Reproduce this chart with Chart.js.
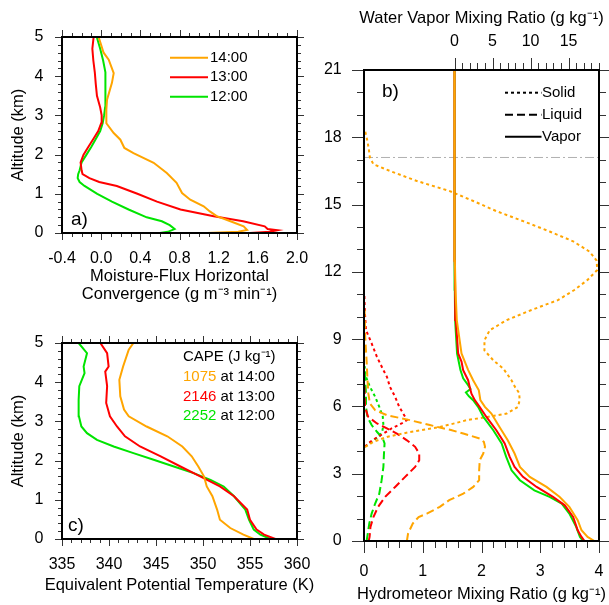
<!DOCTYPE html>
<html>
<head>
<meta charset="utf-8">
<script src="https://cdn.jsdelivr.net/npm/chart.js@4.4.1/dist/chart.umd.min.js"></script>
<style>
  body { margin: 0; background: #fff; }
  #wrap { position: relative; width: 609px; height: 605px; }
  canvas { position: absolute; left: 0; top: 0; }
</style>
</head>
<body>
<div id="wrap">
  <canvas id="chart-a" width="609" height="605"></canvas>
  <canvas id="chart-b" width="609" height="605"></canvas>
  <canvas id="chart-c" width="609" height="605"></canvas>
</div>
<script>
// ---- panel a: moisture-flux convergence (x) vs altitude (y, km)
var altA14  = [0, 0.03, 0.08, 0.17, 0.3, 0.43, 0.55, 0.68, 0.85, 1.02, 1.28, 1.53, 1.79, 2.04, 2.17, 2.38, 2.55, 2.8, 3.15, 3.4, 3.83, 4.08, 4.42, 4.6, 5.0];
var convA14 = [1.08, 1.40, 1.49, 1.455, 1.32, 1.18, 1.11, 1.047, 0.91, 0.826, 0.77, 0.67, 0.536, 0.33, 0.237, 0.196, 0.128, 0.053, 0.053, 0.06, 0.11, 0.128, 0.077, 0.025, -0.026];
var altA13  = [0, 0.03, 0.07, 0.1, 0.17, 0.3, 0.43, 0.6, 0.8, 1.0, 1.2, 1.3, 1.4, 1.5, 1.6, 1.8, 2.0, 2.2, 2.4, 2.6, 2.8, 3.0, 3.2, 3.5, 3.8, 4.1, 4.4, 4.7, 5.0];
var convA13 = [1.52, 1.72, 1.80, 1.70, 1.67, 1.45, 1.15, 0.81, 0.57, 0.37, 0.16, -0.02, -0.12, -0.19, -0.20, -0.21, -0.18, -0.13, -0.08, -0.03, 0.0, 0.005, -0.01, -0.043, -0.055, -0.065, -0.08, -0.09, -0.077];
var altA12  = [0, 0.03, 0.1, 0.2, 0.3, 0.4, 0.6, 0.8, 1.0, 1.2, 1.3, 1.4, 1.5, 1.6, 1.8, 2.0, 2.2, 2.4, 2.6, 2.8, 3.0, 3.2, 3.5, 3.8, 4.1, 4.4, 4.7, 5.0];
var convA12 = [0.60, 0.68, 0.75, 0.70, 0.62, 0.465, 0.28, 0.11, -0.04, -0.17, -0.22, -0.24, -0.235, -0.22, -0.20, -0.15, -0.10, -0.055, -0.01, 0.015, 0.03, 0.04, 0.045, 0.045, 0.04, 0.02, -0.01, -0.045];
var ticksA_x = [-0.4, 0, 0.4, 0.8, 1.2, 1.6, 2.0];
var ticksAlt5 = [0, 1, 2, 3, 4, 5];
var timeLabels = ['14:00', '13:00', '12:00'];

// ---- panel c: equivalent potential temperature (K)
var altC14 = [0, 0.11, 0.28, 0.49, 0.75, 1.09, 1.34, 1.6, 1.85, 2.11, 2.36, 2.62, 2.87, 3.13, 3.3, 3.64, 4.06, 4.4, 4.83, 5.0];
var thetaC14 = [355.4, 354.3, 352.9, 351.8, 351.5, 351.0, 350.4, 350.1, 349.5, 348.8, 347.8, 346.2, 344.0, 342.1, 341.6, 341.2, 341.1, 341.5, 342.1, 342.6];
var altC13 = [0, 0.11, 0.24, 0.49, 0.75, 1.09, 1.34, 1.6, 1.85, 2.11, 2.36, 2.62, 2.87, 3.13, 3.47, 3.9, 4.27, 4.4, 4.74, 5.0];
var thetaC13 = [357.7, 356.5, 355.7, 355.0, 354.7, 353.3, 351.8, 349.7, 347.6, 345.5, 343.3, 341.7, 340.85, 340.1, 339.7, 339.8, 339.6, 339.96, 339.8, 339.08];
var altC12 = [0, 0.11, 0.24, 0.49, 0.75, 1.09, 1.34, 1.51, 1.68, 1.85, 2.02, 2.19, 2.36, 2.53, 2.7, 2.87, 3.13, 3.55, 3.9, 4.23, 4.4, 4.74, 5.0];
var thetaC12 = [357.2, 356.1, 355.4, 354.9, 354.5, 353.3, 352.2, 350.8, 349.0, 346.9, 344.75, 342.6, 340.5, 338.72, 337.66, 337.06, 336.8, 336.77, 336.84, 337.4, 337.3, 337.66, 336.77];
var ticksC_x = [335, 340, 345, 350, 355, 360];
var capeValues = ['1075', '2146', '2252'];

// ---- panel b: hydrometeor (bottom axis) and vapor (top axis) mixing ratios
var altSolid14 = [4.19, 4.42, 4.64, 4.86, 5.06, 5.25, 5.39, 5.53, 5.68, 5.98, 6.28, 6.6, 6.87, 7.17, 7.47, 7.69, 8.06, 8.5, 8.95, 9.4, 9.85, 10.3, 10.74, 11.19, 11.63, 12.08, 12.5, 12.9, 13.36, 13.8, 14.26, 14.7, 15.16, 15.6, 16.06, 16.5, 16.8, 17.1, 17.5, 17.85, 18.3];
var solid14 = [0.02, 0.16, 0.39, 0.78, 1.25, 1.55, 1.75, 2.1, 2.43, 2.62, 2.65, 2.64, 2.57, 2.51, 2.43, 2.37, 2.2, 2.05, 2.05, 2.14, 2.43, 2.85, 3.3, 3.58, 3.8, 3.97, 3.96, 3.84, 3.56, 3.16, 2.71, 2.26, 1.86, 1.46, 0.89, 0.44, 0.16, 0.1, 0.08, 0.057, 0.017];
var altLiquid14 = [0, 0.33, 0.78, 1.07, 1.22, 1.52, 1.82, 2.11, 2.41, 2.71, 3.15, 3.6, 3.9, 4.2, 4.42, 4.57, 4.79, 4.95, 5.06, 5.17, 5.39, 5.61, 5.83, 6.13, 6.58, 7.3, 8.0, 9.1, 10.3];
var liquid14 = [0.73, 0.75, 0.83, 0.93, 1.07, 1.29, 1.45, 1.69, 1.86, 1.96, 1.96, 1.97, 2.03, 2.06, 2.04, 1.97, 1.69, 1.48, 1.29, 1.12, 0.78, 0.39, 0.19, 0.1, 0.074, 0.057, 0.045, 0.02, 0.01];
var altVapor14 = [0, 0.18, 0.48, 0.93, 1.52, 1.97, 2.41, 2.86, 3.3, 3.9, 4.49, 5.09, 5.68, 5.98, 6.28, 6.72, 7.17, 7.62, 8.36, 9.85, 11.2, 12.5, 15, 21];
var vapor14 = [18.4, 17.5, 16.7, 16.2, 15.1, 13.8, 12.1, 9.9, 8.6, 7.9, 7.0, 5.9, 4.85, 4.0, 3.4, 3.2, 2.45, 1.8, 0.92, 0.3, 0.13, 0.05, 0, 0];

var altSolid13 = [4.2, 4.35, 4.57, 4.79, 5.02, 5.24, 5.39, 5.54, 5.98, 6.43, 6.88, 7.32, 7.62, 8.21, 8.81, 9.4, 10.2, 11.05];
var solid13 = [0.017, 0.07, 0.19, 0.33, 0.47, 0.64, 0.73, 0.70, 0.6, 0.53, 0.44, 0.39, 0.33, 0.22, 0.13, 0.034, 0.015, 0.005];
var altLiquid13 = [0, 0.18, 0.63, 1.07, 1.52, 1.97, 2.41, 2.86, 3.3, 3.6, 3.9, 4.2, 4.49, 4.79, 5.02, 5.24, 5.54, 5.98, 6.9];
var liquid13 = [0.08, 0.095, 0.11, 0.16, 0.24, 0.36, 0.53, 0.70, 0.87, 0.94, 0.94, 0.87, 0.73, 0.56, 0.39, 0.22, 0.07, 0.017, 0.008];
var altVapor13 = [0, 0.18, 0.48, 1.07, 1.59, 1.97, 2.41, 2.86, 3.3, 3.75, 4.35, 4.94, 5.53, 5.98, 6.28, 6.57, 6.87, 7.17, 7.62, 8.0, 8.36, 9.85, 11.2, 12.5, 15, 21];
var vapor13 = [17.1, 16.7, 16.2, 15.6, 14.5, 12.95, 10.8, 9.0, 7.9, 7.26, 6.6, 5.5, 4.2, 3.3, 2.67, 2.23, 2.0, 1.79, 1.14, 0.92, 0.48, 0.17, 0.09, 0.03, 0, 0];

var altSolid12 = [4.2, 4.42, 4.64, 4.87, 5.17, 5.54, 5.98, 6.43, 6.88, 7.32, 7.8];
var solid12 = [0.017, 0.13, 0.24, 0.31, 0.33, 0.32, 0.26, 0.19, 0.1, 0.034, 0.01];
var altLiquid12 = [0, 0.78, 1.22, 1.67, 2.11, 2.71, 3.3, 3.9, 4.35, 4.57, 4.87, 5.17, 5.54, 5.98, 6.58, 7.32, 7.7];
var liquid12 = [0.045, 0.09, 0.13, 0.19, 0.26, 0.30, 0.33, 0.34, 0.35, 0.32, 0.22, 0.13, 0.057, 0.034, 0.034, 0.017, 0.01];
var altVapor12 = [0, 0.18, 0.63, 1.22, 1.67, 1.97, 2.26, 2.71, 3.15, 3.75, 4.35, 4.94, 5.53, 5.98, 6.28, 6.45, 6.62, 6.78, 6.95, 7.25, 7.62, 8.36, 9.85, 11.2, 12.5, 15, 21];
var vapor12 = [16.9, 16.5, 16.0, 15.1, 14.1, 12.5, 10.5, 8.6, 7.5, 6.8, 6.2, 5.1, 3.8, 3.1, 2.45, 1.9, 1.5, 2.1, 1.79, 1.14, 0.78, 0.34, 0.08, 0.04, 0.02, 0, 0];

var tropopauseAlt = 17.1;
var ticksB_x = [0, 1, 2, 3, 4];
var ticksB_vapor = [0, 5, 10, 15];
var ticksB_y = [0, 3, 6, 9, 12, 15, 18, 21];
var phaseLabels = ['Solid', 'Liquid', 'Vapor'];

var ORANGE = '#ffa500', RED = '#ff0000', GREEN = '#00e400';
var timeColors = [ORANGE, RED, GREEN];
var DOT = [3, 3], DASH = [8, 4], DASHDOT = [9, 3, 2, 3];
var FONT = '"Liberation Sans", Arial, Helvetica, sans-serif';

Chart.defaults.font.family = FONT;
Chart.defaults.color = '#000';

function pts(xs, ys) {
    return xs.map(function(x, i) { return { x: x, y: ys[i] }; });
}
function fixTicks(values) {
    return function(scale) { scale.ticks = values.map(function(v) { return { value: v }; }); };
}
// fixed axis box sizes, and no label overhang so the plot areas land where they should
function fixWidth(w) {
    return function(scale) { scale.width = w; scale.paddingTop = 0; scale.paddingBottom = 0; };
}
function fixHeight(h) {
    return function(scale) { scale.height = h; scale.paddingLeft = 0; scale.paddingRight = 0; };
}
function series(label, values, alts, color, dash, xAxis, width) {
    return {
        label: label, data: pts(values, alts),
        borderColor: color, borderWidth: width || 2, borderDash: dash || [],
        showLine: true, pointRadius: 0, fill: false, tension: 0,
        xAxisID: xAxis || 'x', yAxisID: 'y'
    };
}
function plainAxis(pos, min, max, ticks, pad, fmt) {
    return {
        type: 'linear', position: pos, min: min, max: max,
        afterBuildTicks: fixTicks(ticks),
        grid: { display: false, drawTicks: false }, border: { display: false },
        ticks: { autoSkip: false, maxRotation: 0, padding: pad, font: { size: 16 }, callback: fmt || function(v) { return String(v); } }
    };
}

// frame box plus major/minor tick marks on the chosen sides
function framePlugin(marks) {
    return {
        id: 'frame',
        afterDatasetsDraw: function(chart) {
            var ctx = chart.ctx, a = chart.chartArea;
            ctx.save();
            ctx.strokeStyle = '#333';
            ctx.lineWidth = 1;
            marks.forEach(function(m) {
                var s = chart.scales[m.axis];
                var every = Math.round(m.major / m.minor);
                for (var i = 0; m.from + i * m.minor <= m.to + 1e-9; i++) {
                    var v = m.from + i * m.minor;
                    var len = (i % every === 0) ? m.len : Math.round(m.len * 0.55);
                    var p = Math.round(s.getPixelForValue(v)) + 0.5;
                    m.sides.forEach(function(side) {
                        ctx.beginPath();
                        if (side === 'bottom') { ctx.moveTo(p, a.bottom); ctx.lineTo(p, a.bottom + len); }
                        if (side === 'top') { ctx.moveTo(p, a.top); ctx.lineTo(p, a.top - len); }
                        if (side === 'left') { ctx.moveTo(a.left, p); ctx.lineTo(a.left - len, p); }
                        if (side === 'right') { ctx.moveTo(a.right, p); ctx.lineTo(a.right + len, p); }
                        ctx.stroke();
                    });
                }
            });
            ctx.strokeStyle = '#000';
            ctx.lineWidth = 2;
            ctx.strokeRect(a.left, a.top, a.right - a.left, a.bottom - a.top);
            ctx.restore();
        }
    };
}

function panelLetter(ctx, text, x, y) {
    ctx.font = '19px ' + FONT;
    ctx.fillStyle = '#000';
    ctx.textAlign = 'left';
    ctx.textBaseline = 'middle';
    ctx.fillText(text, x, y);
}
// wide x-axis titles may run past the plot width, so these are drawn without squeezing
function wideTitle(ctx, text, a, y) {
    ctx.font = '16.5px ' + FONT;
    ctx.fillStyle = '#000';
    ctx.textAlign = 'center';
    ctx.textBaseline = 'middle';
    ctx.fillText(text, (a.left + a.right) / 2, y);
}

var baseOptions = function(padding) {
    return {
        responsive: false, animation: false,
        layout: { padding: padding },
        plugins: { legend: { display: false }, tooltip: { enabled: false } }
    };
};

// ---------------- panel a
var optsA = baseOptions({ left: 0, top: 37, right: 312, bottom: 292 });
optsA.scales = {
    x: Object.assign(plainAxis('bottom', -0.4, 2.0, ticksA_x, 15.7, function(v) { return v.toFixed(1); }), {
        afterFit: fixHeight(80),
        title: { display: true, text: ['Moisture-Flux Horizontal', 'Convergence (g m\u207B\u00B3 min\u207B\u00B9)'],
                 font: { size: 16.5, lineHeight: 1.11 }, padding: { top: 0, bottom: 8.9 } }
    }),
    y: Object.assign(plainAxis('left', 0, 5, ticksAlt5, 18.5), {
        afterFit: fixWidth(62),
        title: { display: true, text: 'Altitude (km)', font: { size: 16.5 }, padding: { top: 8.4, bottom: 0 } }
    })
};
new Chart(document.getElementById('chart-a'), {
    type: 'scatter',
    data: { datasets: [
        series('14:00', convA14, altA14, ORANGE),
        series('13:00', convA13, altA13, RED),
        series('12:00', convA12, altA12, GREEN)
    ] },
    options: optsA,
    plugins: [
        framePlugin([
            { axis: 'x', sides: ['bottom', 'top'], from: -0.4, to: 2.0, minor: 0.1, major: 0.4, len: 7 },
            { axis: 'y', sides: ['left', 'right'], from: 0, to: 5, minor: 0.2, major: 1, len: 7 }
        ]),
        {
            id: 'notesA',
            afterDraw: function(chart) {
                var ctx = chart.ctx, a = chart.chartArea;
                ctx.save();
                timeLabels.forEach(function(t, i) {
                    var y = a.top + 20.7 + 19.5 * i;
                    ctx.strokeStyle = timeColors[i];
                    ctx.lineWidth = 2;
                    ctx.beginPath();
                    ctx.moveTo(a.left + 108, y);
                    ctx.lineTo(a.left + 146, y);
                    ctx.stroke();
                    ctx.font = '15px ' + FONT;
                    ctx.fillStyle = '#000';
                    ctx.textAlign = 'left';
                    ctx.textBaseline = 'middle';
                    ctx.fillText(t, a.left + 148, y);
                });
                panelLetter(ctx, 'a)', a.left + 9, a.bottom - 13);
                ctx.restore();
            }
        }
    ]
});

// ---------------- panel c
var optsC = baseOptions({ left: 0, top: 343, right: 312, bottom: 0 });
optsC.scales = {
    x: Object.assign(plainAxis('bottom', 335, 360, ticksC_x, 15.9), {
        afterFit: fixHeight(66)
    }),
    y: Object.assign(plainAxis('left', 0, 5, ticksAlt5, 18.5), {
        afterFit: fixWidth(62),
        title: { display: true, text: 'Altitude (km)', font: { size: 16.5 }, padding: { top: 8.4, bottom: 0 } }
    })
};
new Chart(document.getElementById('chart-c'), {
    type: 'scatter',
    data: { datasets: [
        series('14:00', thetaC14, altC14, ORANGE),
        series('13:00', thetaC13, altC13, RED),
        series('12:00', thetaC12, altC12, GREEN)
    ] },
    options: optsC,
    plugins: [
        framePlugin([
            { axis: 'x', sides: ['bottom', 'top'], from: 335, to: 360, minor: 1, major: 5, len: 7 },
            { axis: 'y', sides: ['left', 'right'], from: 0, to: 5, minor: 0.2, major: 1, len: 7 }
        ]),
        {
            id: 'notesC',
            afterDraw: function(chart) {
                var ctx = chart.ctx, a = chart.chartArea;
                var x0 = a.left + 121;
                ctx.save();
                ctx.font = '15px ' + FONT;
                ctx.textAlign = 'left';
                ctx.textBaseline = 'middle';
                ctx.fillStyle = '#000';
                ctx.fillText('CAPE (J kg\u207B\u00B9)', x0, a.top + 13.7);
                capeValues.forEach(function(v, i) {
                    var y = a.top + 33.7 + 19.7 * i;
                    ctx.fillStyle = timeColors[i];
                    ctx.fillText(v, x0, y);
                    var w = ctx.measureText(v).width;
                    ctx.fillStyle = '#000';
                    ctx.fillText(' at ' + timeLabels[i], x0 + w, y);
                });
                panelLetter(ctx, 'c)', a.left + 6, a.bottom - 13);
                wideTitle(ctx, 'Equivalent Potential Temperature (K)', a, a.bottom + 46);
                ctx.restore();
            }
        }
    ]
});

// ---------------- panel b
var optsB = baseOptions({ left: 310, top: 0, right: 10, bottom: 0 });
optsB.scales = {
    x: Object.assign(plainAxis('bottom', 0, 4, ticksB_x, 21.1), {
        afterFit: fixHeight(64)
    }),
    xv: Object.assign(plainAxis('top', -11.9, 19, ticksB_vapor, 18.7), {
        afterFit: fixHeight(70)
    }),
    y: Object.assign(plainAxis('left', 0, 21, ticksB_y, 22.3), {
        afterFit: fixWidth(54)
    })
};
new Chart(document.getElementById('chart-b'), {
    type: 'scatter',
    data: { datasets: [
        series('Vapor 14:00', vapor14, altVapor14, ORANGE, [], 'xv'),
        series('Vapor 13:00', vapor13, altVapor13, RED, [], 'xv'),
        series('Vapor 12:00', vapor12, altVapor12, GREEN, [], 'xv'),
        series('Solid 14:00', solid14, altSolid14, ORANGE, DOT),
        series('Liquid 14:00', liquid14, altLiquid14, ORANGE, DASH),
        series('Solid 13:00', solid13, altSolid13, RED, DOT),
        series('Liquid 13:00', liquid13, altLiquid13, RED, DASH),
        series('Solid 12:00', solid12, altSolid12, GREEN, DOT),
        series('Liquid 12:00', liquid12, altLiquid12, GREEN, DASH),
        series('tropopause', [0, 4], [tropopauseAlt, tropopauseAlt], '#b0b0b0', DASHDOT, 'x', 1)
    ] },
    options: optsB,
    plugins: [
        framePlugin([
            { axis: 'x', sides: ['bottom'], from: 0, to: 4, minor: 0.2, major: 1, len: 12 },
            { axis: 'xv', sides: ['top'], from: 0, to: 19, minor: 1, major: 5, len: 12 },
            { axis: 'y', sides: ['left', 'right'], from: 0, to: 21, minor: 1, major: 3, len: 12 }
        ]),
        {
            id: 'notesB',
            afterDraw: function(chart) {
                var ctx = chart.ctx, a = chart.chartArea;
                var dashes = [DOT, DASH, []];
                ctx.save();
                phaseLabels.forEach(function(t, i) {
                    var y = a.top + 22.7 + 22 * i;
                    ctx.strokeStyle = '#000';
                    ctx.lineWidth = 2;
                    ctx.setLineDash(dashes[i]);
                    ctx.beginPath();
                    ctx.moveTo(a.left + 141, y);
                    ctx.lineTo(a.left + 177.5, y);
                    ctx.stroke();
                    ctx.setLineDash([]);
                    ctx.font = '15px ' + FONT;
                    ctx.fillStyle = '#000';
                    ctx.textAlign = 'left';
                    ctx.textBaseline = 'middle';
                    ctx.fillText(t, a.left + 178, y);
                });
                panelLetter(ctx, 'b)', a.left + 18, a.top + 22);
                wideTitle(ctx, 'Hydrometeor Mixing Ratio (g kg\u207B\u00B9)', a, a.bottom + 53);
                wideTitle(ctx, 'Water Vapor Mixing Ratio (g kg\u207B\u00B9)', a, a.top - 52);
                ctx.restore();
            }
        }
    ]
});
</script>
</body>
</html>
